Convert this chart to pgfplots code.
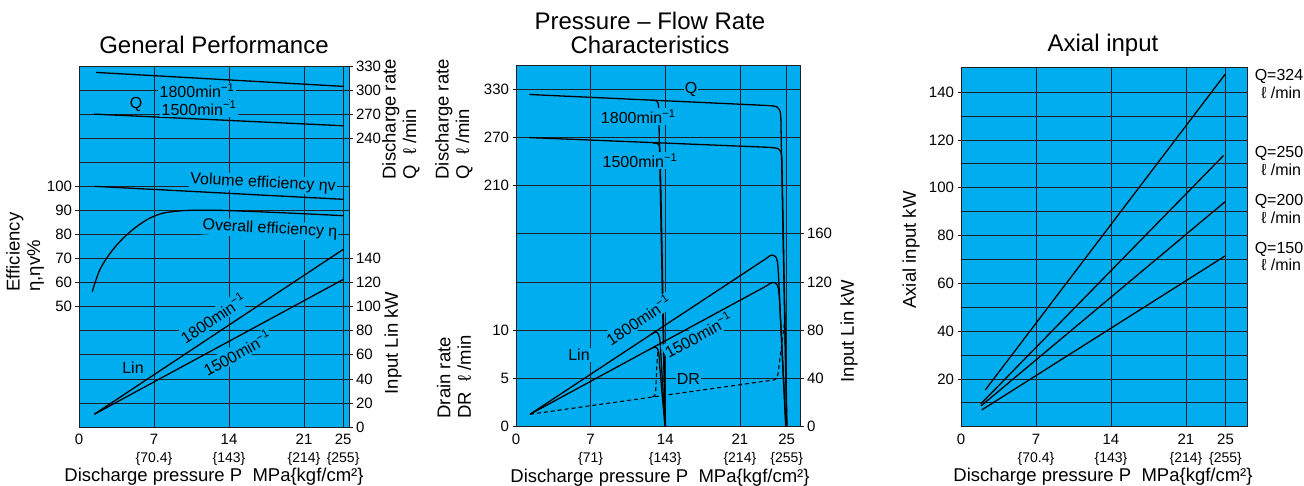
\documentclass[border=0pt]{standalone}
\usepackage{pgfplots}
\pgfplotsset{compat=1.18}
\usepackage{fontspec}
\setmainfont{Liberation Sans}
\definecolor{bg}{RGB}{0,174,239}
\definecolor{gl}{RGB}{30,30,35}
\newcommand\fs[2]{\fontsize{#1}{#2}\selectfont}
\newcommand\sub[1]{{\fs{14}{16}\{#1\}}}
\newcommand\mi{min\textsuperscript{−1}}
\pgfplotsset{
  crv/.style={black, line width=1.3pt, mark=none},
  base/.style={
    scale only axis, anchor=south west,
    axis line style={gl, line width=0.8pt},
    grid style={gl, line width=0.7pt},
    tick style={gl, line width=0.7pt},
    tick align=outside, major tick length=3.5pt,
    ticklabel style={font=\fs{15}{18}},
    /pgf/number format/assume math mode=true,
    x tick style={draw=none},
    xticklabel style={align=center},
    cycle list={{black, line width=1.3pt, mark=none}},
  },
  over/.style={base, hide x axis},
}
\tikzset{lab/.style={font=\fs{16}{19}, fill=bg, inner sep=1.2pt},
  ylab/.style={font=\fs{18.5}{20.5}, align=left, rotate=90, anchor=west},
  ttl/.style={font=\fs{24}{23.5}, align=center}}
\begin{document}
\begin{tikzpicture}[x=1pt,y=1pt]
\useasboundingbox (0,0) rectangle (1304,486);
% ================= Panel 1 =================
\begin{axis}[base, at={(79pt,59pt)}, width=270pt, height=361pt,
  axis background/.style={fill=bg}, grid=major,
  xmin=0, xmax=25.2, ymin=0, ymax=300,
  xtick={0,7,14,21,24.65},
  xticklabels={0,{7\\\sub{70.4}},{14\\\sub{143}},{21\\\sub{214}},{25\\\sub{255}}},
  ytick={0,20,...,140}, ytick pos=right,
  extra y ticks={160,180,...,280}, extra y tick labels={},
  extra y tick style={grid=major, major tick length=0pt}]
\addplot[crv] coordinates {(1.43,10.6) (24.68,147.7)};
\addplot[crv] coordinates {(1.43,10.6) (24.68,122.7)};
\end{axis}
\begin{axis}[over, at={(79pt,59pt)}, width=270pt, height=361pt,
  xmin=0, xmax=25.2, ymin=0, ymax=150,
  ytick={50,60,...,100}, ytick pos=left]
\addplot[crv, smooth] coordinates {(1.24,56.2) (1.5,60) (1.96,65.5) (2.68,70.8) (3.52,75.6) (4.3,79.2) (5.07,82.2) (6.0,85.2) (6.9,87.4) (8.0,89.0) (9.7,89.9) (12,90.1) (14.1,89.9) (17,89.4) (21,88.6) (24.65,87.8)};
\addplot[crv] coordinates {(1.47,100) (24.65,94.6)};
\end{axis}
\begin{axis}[over, at={(79pt,59pt)}, width=270pt, height=361pt,
  xmin=0, xmax=25.2, ymin=-120, ymax=330,
  ytick={240,270,300,330}, ytick pos=right]
\addplot[crv] coordinates {(1.6,322) (24.65,304.6)};
\addplot[crv] coordinates {(1.42,270) (24.65,255.5)};
\end{axis}
\node[ttl] at (214,441) {General Performance};
\node[lab] at (136,382) {Q};
\node[lab] at (197,395) {1800\mi};
\node[lab] at (199,377.7) {1500\mi};
\node[lab, rotate=-3] at (263,302.7) {Volume efficiency ηv};
\node[lab, rotate=-3] at (270,256.7) {Overall efficiency η};
\node[lab, rotate=33.5] at (213,168) {1800\mi};
\node[lab, rotate=28.5] at (237,133) {1500\mi};
\node[lab] at (133,118) {Lin};
\node[ylab] at (25,191) {Efficiency\\η,ηv\%};
\node[ylab] at (401,303) {Discharge rate\\Q \ ℓ /min};
\node[font=\fs{18.5}{20}, rotate=90] at (393,143) {Input Lin kW};
\node[font=\fs{18.5}{20}] at (214,9.3) {Discharge pressure P\ \ MPa\{kgf/cm²\}};
% ================= Panel 2 =================
\begin{axis}[base, at={(516pt,59.3pt)}, width=284pt, height=361.7pt,
  axis background/.style={fill=bg}, grid=major,
  xmin=0, xmax=26.64, ymin=0, ymax=300,
  xtick={0,7,14,21,25.39},
  xticklabels={0,{7\\\sub{71}},{14\\\sub{143}},{21\\\sub{214}},{25\\\sub{255}}},
  ytick={0,40,...,160}, ytick pos=right,
  extra y ticks={200,240,280}, extra y tick labels={},
  extra y tick style={grid=major, major tick length=0pt}]
% Lin 1800
\addplot[crv] coordinates {(1.31,10.3) (23.4,139.1) (23.75,141.4) (23.95,142.2) (24.2,142.0) (24.4,140.5) (24.52,137) (24.6,130) (24.63,124) (25.3,0)};
\addplot[crv] coordinates {(12.7,76.7) (13.0,78.3) (13.2,78.4) (13.35,77) (13.47,73.5) (13.54,68) (13.57,63) (13.98,0)};
% Lin 1500
\addplot[crv] coordinates {(1.31,10.3) (23.5,116.8) (23.85,118.9) (24.1,119.6) (24.3,119.3) (24.5,117.7) (24.62,114.5) (24.7,108) (24.73,102) (25.33,0)};
\addplot[crv] coordinates {(12.6,64.4) (12.9,65.7) (13.1,65.9) (13.27,64.8) (13.39,61.5) (13.45,56) (13.47,51) (13.98,0)};
\end{axis}
\begin{axis}[over, at={(516pt,59.3pt)}, width=284pt, height=361.7pt,
  xmin=0, xmax=26.64, ymin=0, ymax=37.5,
  ytick={0,5,10}, ytick pos=left]
\addplot[crv, line width=1.1pt, dash pattern=on 4pt off 3pt] coordinates {(1.31,1.29) (24.2,4.85) (24.45,5.0) (24.58,5.5) (25.3,11.8)};
\addplot[crv, line width=1.1pt, dash pattern=on 4pt off 3pt] coordinates {(12.8,3.13) (13.0,3.2) (13.1,3.6) (13.22,6.5) (13.3,7.8)};
\end{axis}
\begin{axis}[over, at={(516pt,59.3pt)}, width=284pt, height=361.7pt,
  xmin=0, xmax=26.64, ymin=-90, ymax=360,
  ytick={210,270,330}, ytick pos=left]
\addplot[crv] coordinates {(1.25,323.3) (23.6,309.6) (24.1,309.1) (24.45,308) (24.65,305.5) (24.78,302) (24.84,296) (25.39,-90)};
\addplot[crv] coordinates {(1.25,269.7) (23.7,257.6) (24.25,257) (24.6,255.8) (24.8,253) (24.9,249) (24.94,243) (25.42,-90)};
\addplot[crv] coordinates {(12.7,316.2) (13.05,315.8) (13.22,314.8) (13.32,312.5) (13.37,309) (13.39,303) (13.98,-90)};
\addplot[crv] coordinates {(12.85,262.9) (13.2,262.5) (13.37,261.3) (13.46,259) (13.5,255) (13.52,250) (14.02,-90)};
\end{axis}
\node[ttl] at (650,453) {Pressure – Flow Rate\\Characteristics};
\node[lab] at (691,396.7) {Q};
\node[lab] at (638.3,369.3) {1800\mi};
\node[lab] at (640,325.3) {1500\mi};
\node[lab] at (579,131) {Lin};
\node[lab, rotate=33.6] at (638.3,166) {1800\mi};
\node[lab, rotate=28.6] at (698.3,151) {1500\mi};
\node[lab] at (688.3,106.7) {DR};
\node[ylab] at (454,303) {Discharge rate\\Q \ ℓ /min};
\node[ylab] at (454,64) {Drain rate\\DR \ ℓ /min};
\node[font=\fs{18.5}{20}, rotate=90] at (849,155) {Input Lin kW};
\node[font=\fs{18.5}{20}] at (660,8.5) {Discharge pressure P\ \ MPa\{kgf/cm²\}};
% ================= Panel 3 =================
\begin{axis}[base, at={(961pt,59.3pt)}, width=286.3pt, height=359pt,
  axis background/.style={fill=bg}, grid=major,
  xmin=0, xmax=26.73, ymin=0, ymax=150.2,
  xtick={0,7,14,21,24.7},
  xticklabels={0,{7\\\sub{70.4}},{14\\\sub{143}},{21\\\sub{214}},{25\\\sub{255}}},
  ytick={20,40,...,140}, ytick pos=left,
  extra y ticks={10,30,...,130}, extra y tick labels={},
  extra y tick style={grid=major, major tick length=0pt}]
\addplot[crv] coordinates {(2.27,15.4) (24.65,147.4)};
\addplot[crv] coordinates {(1.84,9.5) (24.5,113.4)};
\addplot[crv] coordinates {(1.87,8.7) (24.65,94.1)};
\addplot[crv] coordinates {(1.93,7.0) (24.65,71.4)};
\end{axis}
\node[ttl] at (1103,441) {Axial input};
\node[font=\fs{18.5}{20}, rotate=90] at (911,236) {Axial input kW};
\node[font=\fs{16}{17.7}, align=center] at (1279,402.2) {Q=324\\\ ℓ /min};
\node[font=\fs{16}{17.7}, align=center] at (1279,325.2) {Q=250\\\ ℓ /min};
\node[font=\fs{16}{17.7}, align=center] at (1279,277) {Q=200\\\ ℓ /min};
\node[font=\fs{16}{17.7}, align=center] at (1279,229.5) {Q=150\\\ ℓ /min};
\node[font=\fs{18.5}{20}] at (1103,9.3) {Discharge pressure P\ \ MPa\{kgf/cm²\}};
\end{tikzpicture}
\end{document}
